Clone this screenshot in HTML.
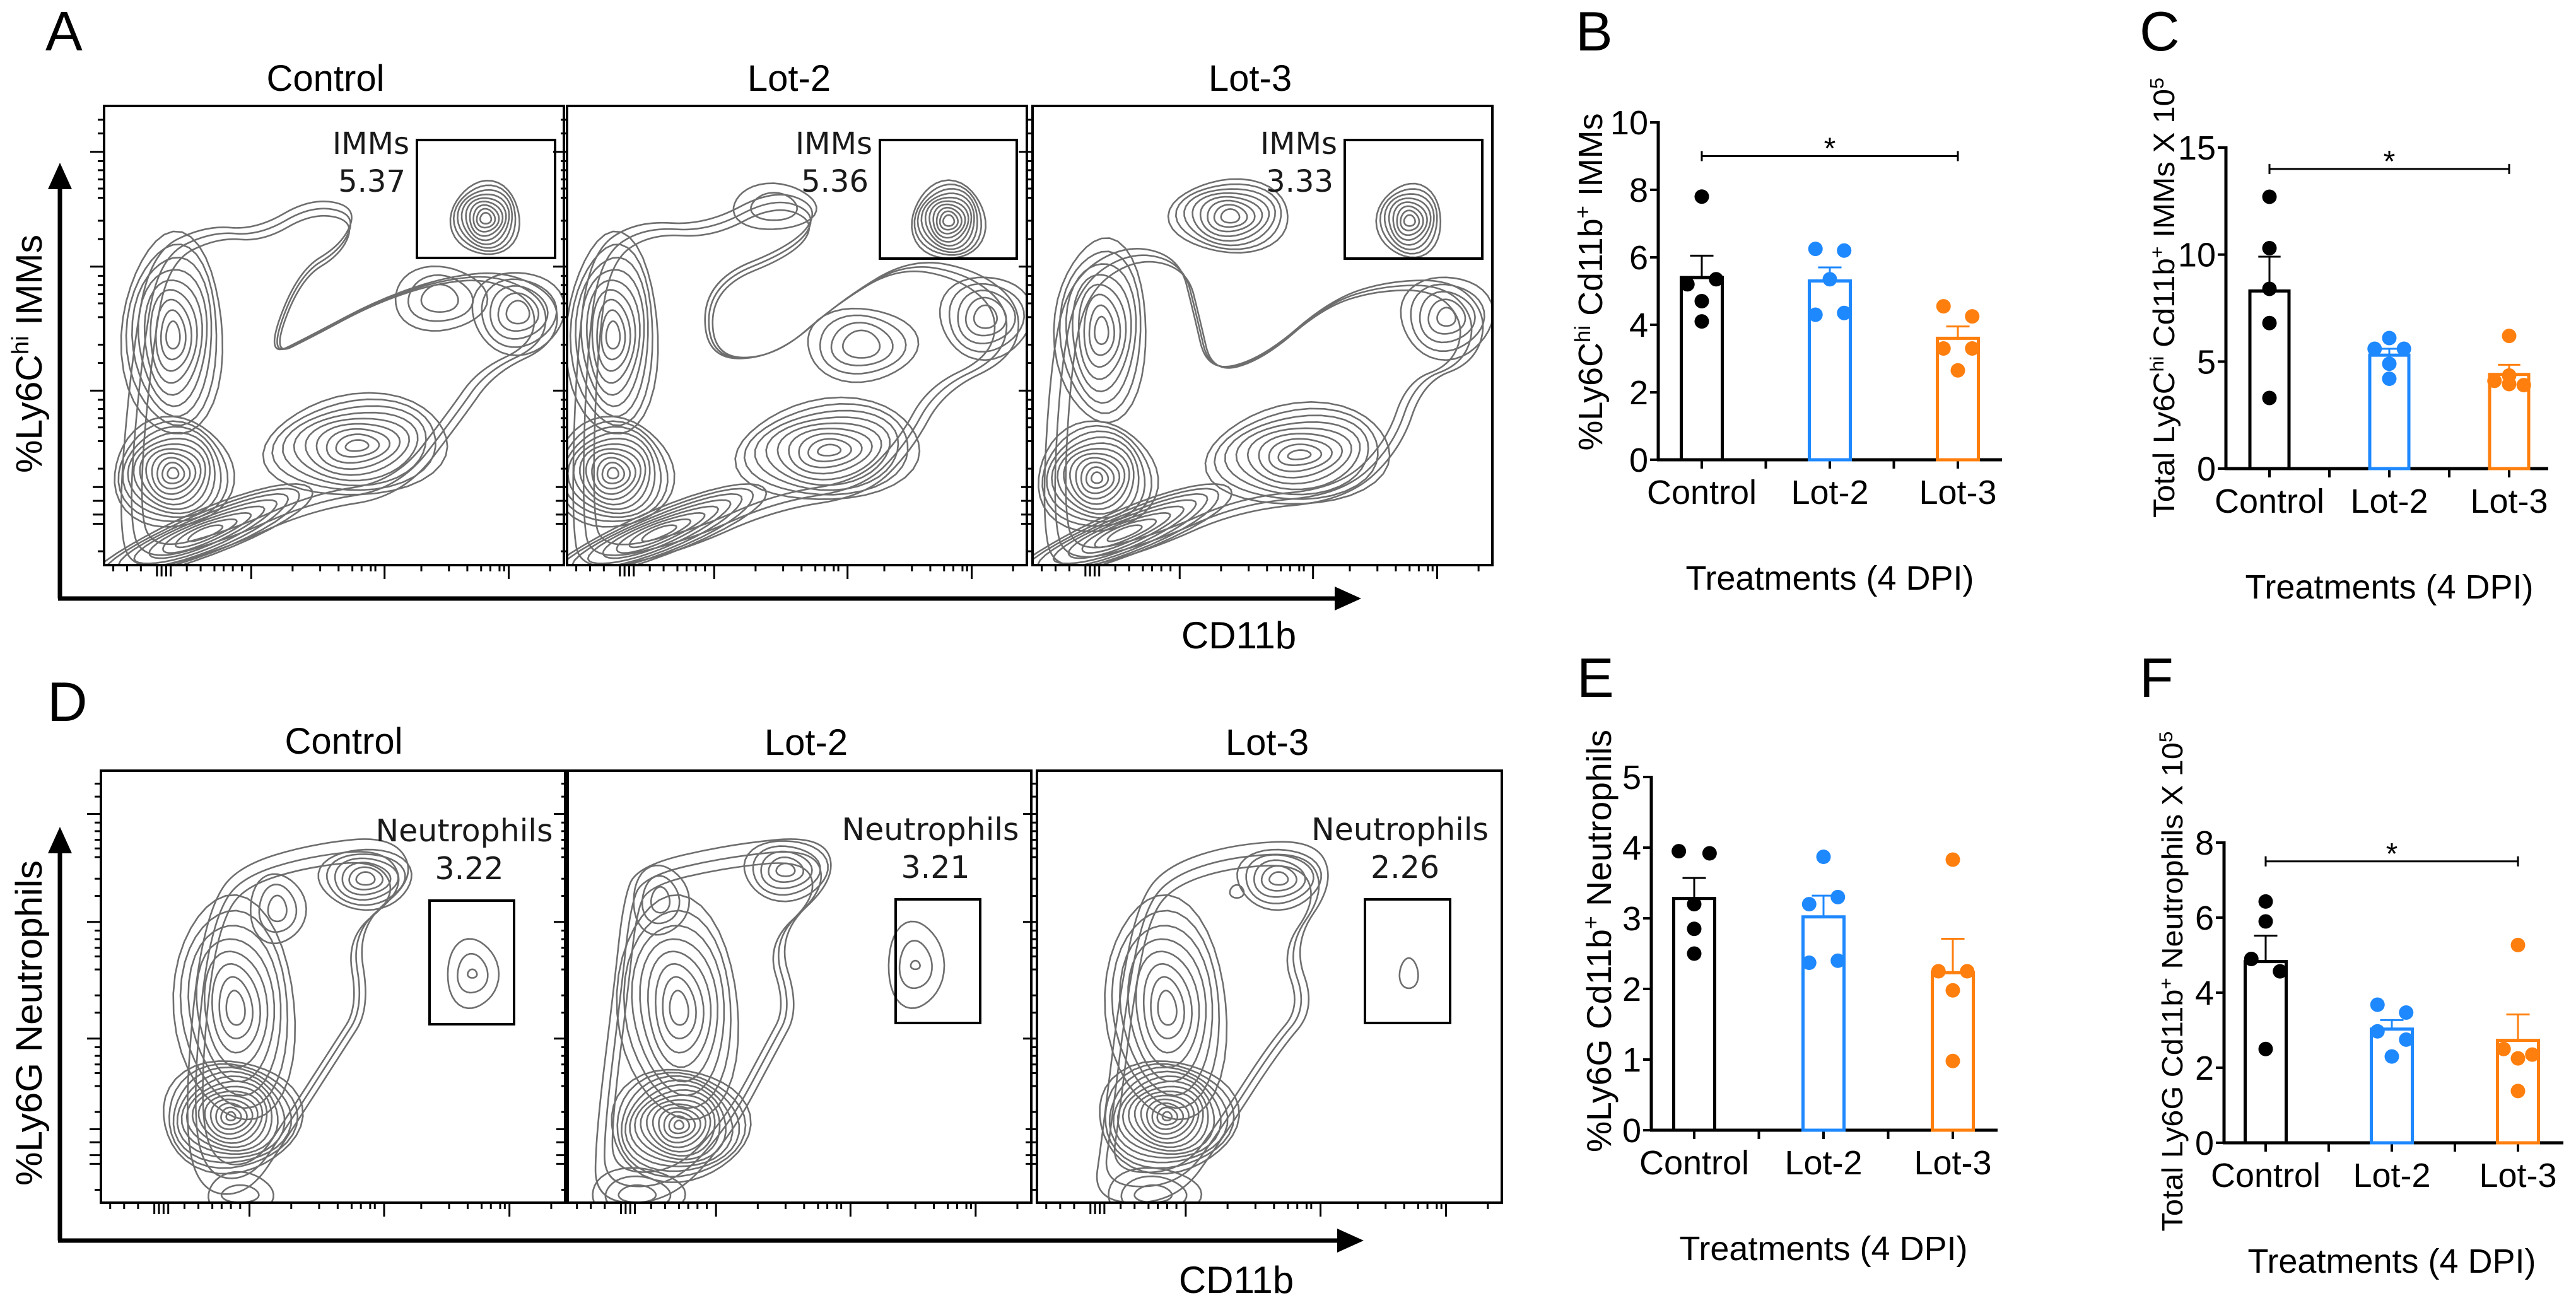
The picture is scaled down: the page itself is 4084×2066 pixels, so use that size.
<!DOCTYPE html>
<html><head><meta charset="utf-8"><style>
html,body{margin:0;padding:0;background:#fff}
svg{display:block}
text{font-family:"Liberation Sans",Arial,sans-serif}
.gl{font-family:"DejaVu Sans",sans-serif;fill:#1a1a1a}
</style></head><body>
<svg id="fig" xmlns="http://www.w3.org/2000/svg" width="4084" height="2066" viewBox="0 0 4084 2066">
<rect width="4084" height="2066" fill="#fff"/>
<g id="flow"></g>
<g id="bars"></g>
</svg>
<script>
// ---------- Bar chart data ----------
const categories = ["Control","Lot-2","Lot-3"];
const colors = ["#000000","#1e88ff","#ff7f0e"];
const bMeans = [5.4, 5.3, 3.6];
const bErr = [6.05, 5.7, 3.95];
const bCtrl = [7.8, 5.35, 5.2, 4.7, 4.1];
const bLot2 = [6.25, 6.2, 5.35, 4.3, 4.35];
const bLot3 = [4.55, 4.25, 3.3, 3.3, 2.65];
const bTicks = [0,2,4,6,8,10];
const cMeans = [8.3, 5.3, 4.4];
const cErr = [9.9, 5.6, 4.85];
const cCtrl = [12.7, 10.3, 8.4, 6.8, 3.3];
const cLot2 = [6.1, 5.6, 5.6, 4.9, 4.2];
const cLot3 = [6.2, 4.35, 4.1, 3.9, 3.95];
const cTicks = [0,5,10,15];
const eMeans = [3.28, 3.02, 2.23];
const eErr = [3.57, 3.32, 2.71];
const eCtrl = [3.95, 3.92, 3.2, 2.85, 2.5];
const eLot2 = [3.87, 3.3, 3.2, 2.4, 2.37];
const eLot3 = [3.83, 2.25, 2.25, 1.98, 0.98];
const eTicks = [0,1,2,3,4,5];
const fMeans = [4.83, 3.03, 2.73];
const fErr = [5.52, 3.27, 3.42];
const fCtrl = [6.43, 5.9, 4.9, 4.57, 2.5];
const fLot2 = [3.68, 3.47, 2.97, 2.75, 2.3];
const fLot3 = [5.27, 2.5, 2.35, 2.25, 1.38];
const fTicks = [0,2,4,6,8];
const jB = [[0,0.7,-0.7,0,0],[-0.7,0.7,0,-0.7,0.7],[-0.7,0.7,-0.7,0.7,0]];
const jC = [[0,0,0,0,0],[0,-0.75,0.75,0,0],[0,0,-0.75,0.75,0]];
const jE = [[-0.75,0.75,0,0,0],[0,0.7,-0.7,0.7,-0.7],[0,-0.7,0.7,0,0]];
const jF = [[0,0,-0.7,0.7,0],[-0.7,0.7,-0.7,0.7,0],[0,-0.7,0.7,0,0]];

const NS="http://www.w3.org/2000/svg";
function mk(parent,tag,attrs,txt){const e=document.createElementNS(NS,tag);for(const k in attrs)e.setAttribute(k,attrs[k]);if(txt!==undefined)e.textContent=txt;parent.appendChild(e);return e;}

function barPanel(g, cfg, means, errs, pts, jit, ticks){
  const yS = v => cfg.y0 - (v/cfg.ymax)*(cfg.y0-cfg.ytop);
  const xS = i => cfg.cx[i];
  const ya = mk(g,'line',{x1:cfg.ax,y1:cfg.ytop-2,x2:cfg.ax,y2:cfg.y0+2,stroke:'#000','stroke-width':5});
  
  
  const xa = mk(g,'line',{x1:cfg.ax-2,y1:cfg.y0,x2:cfg.xend,y2:cfg.y0,stroke:'#000','stroke-width':5});
  
  
  ticks.forEach(t=>{
    mk(g,'line',{x1:cfg.ax-13,y1:yS(t),x2:cfg.ax,y2:yS(t),stroke:'#000','stroke-width':4});
    const tl = mk(g,'text',{x:cfg.ax-16,y:yS(t)+19,'font-size':54,'text-anchor':'end'},String(t));
    
    
  });
  const xt=[xS(0),(xS(0)+xS(1))/2,xS(1),(xS(1)+xS(2))/2,xS(2)];
  xt.forEach(x=>mk(g,'line',{x1:x,y1:cfg.y0,x2:x,y2:cfg.y0+14,stroke:'#000','stroke-width':4}));
  categories.forEach((c,i)=>{
    const t = mk(g,'text',{x:xS(i),y:cfg.y0+70,'font-size':54,'text-anchor':'middle'},c);
    
    
    const hw=cfg.bw/2;
    const b = mk(g,'rect',{x:xS(i)-hw,y:yS(means[i]),width:cfg.bw,height:cfg.y0-yS(means[i]),fill:'#fff',stroke:colors[i],'stroke-width':5});
    
    
    const e1 = mk(g,'line',{x1:xS(i),y1:yS(means[i]),x2:xS(i),y2:yS(errs[i]),stroke:colors[i],'stroke-width':3});
    
    
    mk(g,'line',{x1:xS(i)-hw*0.57,y1:yS(errs[i]),x2:xS(i)+hw*0.57,y2:yS(errs[i]),stroke:colors[i],'stroke-width':3});
    pts[i].forEach((v,k)=>{
      const d = mk(g,'circle',{cx:xS(i)+jit[i][k]*hw,cy:yS(v),r:11.5,fill:colors[i]});
      
      
    });
  });
  if(cfg.sig){
    const by=yS(cfg.sig);
    const x1=xS(0),x2=xS(2);
    const br = mk(g,'path',{d:`M${x1} ${by-8}V${by+8}M${x1} ${by}H${x2}M${x2} ${by-8}V${by+8}`,stroke:'#000','stroke-width':3,fill:'none'});
    
    
    const st = mk(g,'text',{x:(x1+x2)/2,y:by+4,'font-size':48,'text-anchor':'middle'},'*');
    
    
  }
  const tt = mk(g,'text',{x:xS(1),y:cfg.y0+206,'font-size':54,'text-anchor':'middle'},'Treatments (4 DPI)');
  
  
  const yt = mk(g,'text',{transform:`translate(${cfg.lx},${cfg.ly}) rotate(-90)`,'font-size':cfg.lfs,'text-anchor':'middle',textLength:cfg.llen,lengthAdjust:'spacingAndGlyphs'});
  
  
  cfg.label.forEach(p=>{
    mk(yt,'tspan',p[1]?{'baseline-shift':'super','font-size':cfg.lfs*0.65}:{},p[0]);
  });
  const L = mk(g,'text',{x:cfg.letX,y:cfg.letY,'font-size':88},cfg.letter);
  
  
}

const bars=document.getElementById('bars');
function grp(name){const g=mk(bars,'g',{});return g;}
barPanel(grp('panel-b'),{ax:2629,y0:729,ytop:194,ymax:10,xend:3174,cx:[2698,2901,3104],bw:65,sig:9,lx:2540,ly:447,lfs:54,llen:535,letter:'B',letX:2498,letY:80,
  label:[['%Ly6C'],['hi',1],[' Cd11b'],['+',1],[' IMMs']]},bMeans,bErr,[bCtrl,bLot2,bLot3],jB,bTicks);
barPanel(grp('panel-c'),{ax:3529,y0:743,ytop:234,ymax:15,xend:4040,cx:[3598,3788,3978],bw:62,sig:14,lx:3447,ly:472,lfs:47,llen:698,letter:'C',letX:3392,letY:80,
  label:[['Total Ly6C'],['hi',1],[' Cd11b'],['+',1],[' IMMs X 10'],['5',1]]},cMeans,cErr,[cCtrl,cLot2,cLot3],jC,cTicks);
barPanel(grp('panel-e'),{ax:2618,y0:1792,ytop:1232,ymax:5,xend:3167,cx:[2686,2891,3096],bw:65,sig:null,lx:2554,ly:1492,lfs:55,llen:670,letter:'E',letX:2500,letY:1105,
  label:[['%Ly6G Cd11b'],['+',1],[' Neutrophils']]},eMeans,eErr,[eCtrl,eLot2,eLot3],jE,eTicks);
barPanel(grp('panel-f'),{ax:3526,y0:1812,ytop:1336,ymax:8,xend:4064,cx:[3592,3792,3992],bw:65,sig:7.5,lx:3460,ly:1556,lfs:46,llen:793,letter:'F',letX:3392,letY:1105,
  label:[['Total Ly6G Cd11b'],['+',1],[' Neutrophils X 10'],['5',1]]},fMeans,fErr,[fCtrl,fLot2,fLot3],jF,fTicks);

// ---------- Flow cytometry contour panels ----------
const flow=document.getElementById('flow');
function ringsPath(cx,cy,rx0,rx1,ry0,ry1,n,rot,wob){
  let d='';
  for(let k=0;k<n;k++){
    const t=n==1?1:k/(n-1);
    const rx=rx0+(rx1-rx0)*t, ry=ry0+(ry1-ry0)*t;
    const a=rot*Math.PI/180;
    for(let s=0;s<=36;s++){
      const th=s/36*2*Math.PI;
      const w=1+wob*Math.sin(3*th+k*0.7);
      const ex=rx*w*Math.cos(th), ey=ry*w*Math.sin(th);
      const x=cx+ex*Math.cos(a)-ey*Math.sin(a), y=cy+ex*Math.sin(a)+ey*Math.cos(a);
      d+=(s==0?'M':'L')+x.toFixed(1)+' '+y.toFixed(1);
    }
    d+='Z';
  }
  return d;
}
function blobPath(pts,x,y,w,h,scales){
  let cx=0,cy=0;pts.forEach(p=>{cx+=p[0];cy+=p[1];});cx/=pts.length;cy/=pts.length;
  let d='';
  scales.forEach(s=>{
    const P=pts.map(p=>[x+(cx+(p[0]-cx)*s)*w,y+(cy+(p[1]-cy)*s)*h]);
    const n=P.length;
    const mid=(a,b)=>[(a[0]+b[0])/2,(a[1]+b[1])/2];
    let m=mid(P[n-1],P[0]);
    d+=`M${m[0].toFixed(1)} ${m[1].toFixed(1)}`;
    for(let i=0;i<n;i++){const q=mid(P[i],P[(i+1)%n]);d+=`Q${P[i][0].toFixed(1)} ${P[i][1].toFixed(1)} ${q[0].toFixed(1)} ${q[1].toFixed(1)}`;}
    d+='Z';
  });
  return d;
}
function flowBox(x,y,w,h,peaks,env,gate,glab,gval,gtype,title,titleX,titleY,name){
  const g=mk(flow,'g',{});
  
  
  const cid='clip'+name;
  const cp=mk(g,'clipPath',{id:cid});mk(cp,'rect',{x:x,y:y,width:w,height:h});
  const cg=mk(g,'g',{'clip-path':`url(#${cid})`});
  env.forEach(e=>{
    const pa=mk(cg,'path',{d:blobPath(e[0],x,y,w,h,e[1]),fill:'none',stroke:'#6e6e6e','stroke-width':2.6});
    
    
  });
  peaks.forEach(p=>{
    const pa=mk(cg,'path',{d:ringsPath(x+p[0]*w,y+p[1]*h,p[2]*w,p[3]*w,p[4]*h,p[5]*h,p[6],p[7]||0,p[8]===undefined?0.04:p[8]),fill:'none',stroke:'#6e6e6e','stroke-width':2.6});
    
    
  });
  const fr=mk(g,'rect',{x:x,y:y,width:w,height:h,fill:'none',stroke:'#000','stroke-width':4});
  
  
  const maj=[0.32,0.61,0.88], bunch=[0.115,0.125,0.135,0.145];
  let d='';
  maj.forEach(f=>{d+=`M${x+f*w} ${y+h}v22`;});
  bunch.forEach(f=>{d+=`M${x+f*w} ${y+h}v18`;});
  [0.02,0.05,0.08,0.18,0.21,0.24,0.26,0.28,0.3,0.41,0.47,0.51,0.54,0.56,0.58,0.59,0.69,0.75,0.79,0.82,0.84,0.86,0.87,0.97].forEach(f=>{d+=`M${x+f*w} ${y+h}v10`;});
  [0.1,0.35,0.62].forEach(f=>{d+=`M${x} ${y+f*h}h-22`;});
  [0.83,0.86,0.89,0.91].forEach(f=>{d+=`M${x} ${y+f*h}h-18`;});
  [0.03,0.06,0.12,0.14,0.16,0.18,0.2,0.25,0.29,0.37,0.39,0.41,0.43,0.46,0.52,0.56,0.64,0.66,0.68,0.7,0.73,0.79,0.97].forEach(f=>{d+=`M${x} ${y+f*h}h-10`;});
  mk(g,'path',{d:d,stroke:'#000','stroke-width':3,fill:'none'});
  const gr=mk(g,'rect',{x:gate[0],y:gate[1],width:gate[2]-gate[0],height:gate[3]-gate[1],fill:'none',stroke:'#000','stroke-width':4});
  
  
  let l1,l2;
  if(gtype==='imm'){
    l1=mk(g,'text',{x:gate[0]-12,y:gate[1]+22,'font-size':48,'text-anchor':'end',class:'gl'},glab);
    l2=mk(g,'text',{x:gate[0]-18,y:gate[1]+82,'font-size':48,'text-anchor':'end',class:'gl'},gval);
  } else {
    const cx=(gate[0]+gate[2])/2-12;
    l1=mk(g,'text',{x:cx,y:gate[1]-94,'font-size':49,'text-anchor':'middle',class:'gl'},glab);
    l2=mk(g,'text',{x:cx+8,y:gate[1]-34,'font-size':49,'text-anchor':'middle',class:'gl'},gval);
  }
  
  
  
  
  const t=mk(g,'text',{x:titleX,y:titleY,'font-size':58,'text-anchor':'middle'},title);
  
  
}
// peaks: [cx,cy,rx0,rx1,ry0,ry1,n,rot,wob]
const pkA1=[[0.83,0.245,0.012,0.075,0.012,0.08,9],[0.15,0.5,0.015,0.11,0.03,0.22,9,0,0.04],[0.15,0.8,0.012,0.13,0.012,0.12,11],[0.55,0.74,0.025,0.2,0.012,0.11,9,-5],[0.9,0.45,0.025,0.1,0.025,0.09,5],[0.73,0.42,0.04,0.1,0.03,0.07,3],[0.22,0.93,0.04,0.26,0.01,0.05,8,-22]];
const envA1=[[[[0.1,0.32],[0.22,0.26],[0.33,0.27],[0.45,0.2],[0.55,0.22],[0.52,0.3],[0.42,0.36],[0.35,0.55],[0.45,0.5],[0.6,0.42],[0.75,0.37],[0.88,0.36],[0.99,0.42],[0.98,0.52],[0.85,0.58],[0.78,0.68],[0.65,0.85],[0.45,0.88],[0.25,0.97],[0.06,1.02],[0.03,0.9],[0.06,0.55]],[0.9,0.95,1.0]]];
const pkA2=[[0.83,0.25,0.012,0.08,0.012,0.085,10],[0.1,0.5,0.015,0.1,0.03,0.22,9,0,0.04],[0.1,0.8,0.012,0.13,0.012,0.12,11],[0.57,0.75,0.025,0.2,0.012,0.11,9,-5],[0.91,0.46,0.025,0.1,0.025,0.09,5],[0.64,0.52,0.04,0.12,0.03,0.08,4],[0.45,0.22,0.05,0.09,0.03,0.05,2],[0.2,0.93,0.04,0.26,0.01,0.05,8,-22]];
const envA2=[[[[0.05,0.32],[0.15,0.25],[0.3,0.26],[0.45,0.18],[0.55,0.22],[0.5,0.3],[0.3,0.38],[0.3,0.55],[0.45,0.55],[0.6,0.42],[0.75,0.33],[0.9,0.36],[0.99,0.44],[0.97,0.55],[0.82,0.62],[0.75,0.75],[0.65,0.85],[0.45,0.88],[0.25,0.97],[0.03,1.02],[0.01,0.9],[0.02,0.55]],[0.9,0.95,1.0]]];
const pkA3=[[0.82,0.25,0.012,0.07,0.012,0.08,8],[0.43,0.24,0.02,0.13,0.015,0.08,8],[0.15,0.49,0.015,0.1,0.03,0.2,8,0,0.04],[0.14,0.81,0.012,0.13,0.012,0.12,11],[0.58,0.76,0.025,0.2,0.01,0.11,9,-5],[0.9,0.46,0.02,0.1,0.02,0.09,5],[0.2,0.93,0.04,0.26,0.01,0.05,8,-22]];
const envA3=[[[[0.08,0.38],[0.2,0.3],[0.32,0.33],[0.35,0.45],[0.38,0.58],[0.5,0.55],[0.65,0.42],[0.78,0.38],[0.92,0.38],[0.99,0.46],[0.96,0.56],[0.85,0.6],[0.8,0.75],[0.68,0.86],[0.45,0.88],[0.25,0.97],[0.05,1.02],[0.02,0.9],[0.04,0.55]],[0.9,0.95,1.0]]];
const pkD1=[[0.28,0.8,0.01,0.15,0.01,0.13,13],[0.29,0.55,0.02,0.13,0.04,0.26,8,-5,0.03],[0.57,0.25,0.02,0.1,0.015,0.07,6],[0.38,0.32,0.02,0.06,0.03,0.08,3],[0.8,0.47,0.01,0.055,0.01,0.08,3],[0.3,0.98,0.04,0.07,0.02,0.05,2]];
const envD1=[[[[0.3,0.22],[0.45,0.17],[0.63,0.15],[0.68,0.25],[0.55,0.36],[0.58,0.55],[0.52,0.65],[0.4,0.85],[0.32,0.98],[0.22,0.98],[0.18,0.85],[0.2,0.5],[0.24,0.3]],[0.85,0.92,1.0]]];
const pkD2=[[0.24,0.82,0.01,0.15,0.01,0.13,13],[0.24,0.55,0.02,0.13,0.04,0.26,8,-5,0.03],[0.47,0.23,0.02,0.09,0.015,0.07,5],[0.2,0.3,0.02,0.06,0.03,0.08,3],[0.75,0.45,0.01,0.06,0.01,0.1,3],[0.15,0.98,0.04,0.1,0.02,0.06,3]];
const envD2=[[[[0.15,0.22],[0.35,0.17],[0.55,0.15],[0.58,0.25],[0.45,0.38],[0.5,0.55],[0.45,0.65],[0.35,0.85],[0.22,1.0],[0.06,1.0],[0.06,0.85],[0.1,0.5],[0.12,0.3]],[0.85,0.92,1.0]]];
const pkD3=[[0.28,0.8,0.01,0.15,0.01,0.13,13],[0.28,0.55,0.02,0.13,0.04,0.26,8,-5,0.03],[0.52,0.25,0.02,0.09,0.015,0.07,5],[0.43,0.28,0.01,0.015,0.01,0.015,1],[0.8,0.47,0.02,0.02,0.035,0.035,1],[0.25,0.98,0.04,0.1,0.02,0.06,3]];
const envD3=[[[[0.28,0.22],[0.42,0.17],[0.6,0.16],[0.64,0.26],[0.55,0.4],[0.6,0.55],[0.52,0.65],[0.4,0.85],[0.3,1.0],[0.12,1.0],[0.14,0.85],[0.18,0.5],[0.22,0.3]],[0.85,0.92,1.0]]];

flowBox(165,168,729,728,pkA1,envA1,[661,222,880,409],'IMMs','5.37','imm','Control',516,144,'flow-a-control');
flowBox(899,168,729,728,pkA2,envA2,[1395,222,1612,410],'IMMs','5.36','imm','Lot-2',1251,144,'flow-a-lot2');
flowBox(1637,168,729,728,pkA3,envA3,[2132,222,2350,410],'IMMs','3.33','imm','Lot-3',1982,144,'flow-a-lot3');
flowBox(160,1222,736,685,pkD1,envD1,[681,1428,815,1624],'Neutrophils','3.22','neu','Control',545,1195,'flow-d-control');
flowBox(900,1222,735,685,pkD2,envD2,[1420,1426,1554,1622],'Neutrophils','3.21','neu','Lot-2',1278,1197,'flow-d-lot2');
flowBox(1644,1222,737,685,pkD3,envD3,[2164,1426,2299,1622],'Neutrophils','2.26','neu','Lot-3',2009,1197,'flow-d-lot3');

function axesArrows(vTop,vBot,hEnd,name){
  const g=mk(flow,'g',{});
  
  
  mk(g,'path',{d:`M95 ${vBot}V${vTop+40}M92 ${vBot}H${hEnd-40}`,stroke:'#000','stroke-width':7,fill:'none'});
  mk(g,'path',{d:`M95 ${vTop}L76 ${vTop+42}H114Z M${hEnd} ${vBot}L${hEnd-42} ${vBot-19}V${vBot+19}Z`,fill:'#000'});
}
axesArrows(258,949,2158,'axis-arrows-a');
axesArrows(1311,1967,2162,'axis-arrows-d');

function ftext(x,y,fs,parts,rot,name,len){
  const t=mk(flow,'text',rot?{transform:`translate(${x},${y}) rotate(-90)`,'font-size':fs,'text-anchor':'middle',textLength:len,lengthAdjust:'spacingAndGlyphs'}:{x:x,y:y,'font-size':fs,'text-anchor':'middle'});
  
  
  parts.forEach(p=>mk(t,'tspan',p[1]?{'baseline-shift':'super','font-size':fs*0.65}:{},p[0]));
}
ftext(66,561,58,[['%Ly6C'],['hi',1],[' IMMs']],true,'y-axis-title-a',378);
ftext(66,1622,58,[['%Ly6G Neutrophils']],true,'y-axis-title-d',516);
ftext(1964,1028,60,[['CD11b']],false,'x-axis-title-a');
ftext(1960,2050,60,[['CD11b']],false,'x-axis-title-d');
const LA=mk(flow,'text',{x:72,y:80,'font-size':88},'A');


const LD=mk(flow,'text',{x:75,y:1143,'font-size':88},'D');


</script>
</body></html>
